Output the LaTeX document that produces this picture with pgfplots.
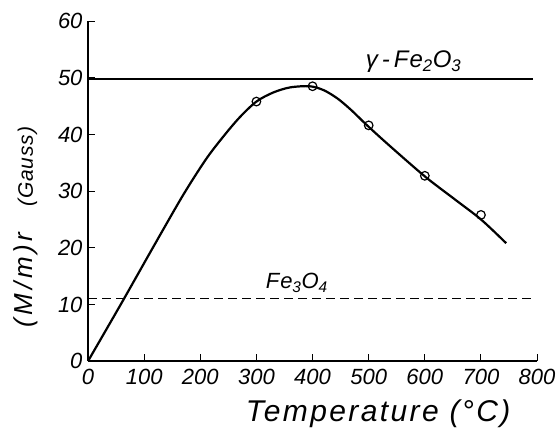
\documentclass[border=0pt]{standalone}
\usepackage{fontspec}
\setmainfont{Liberation Sans}
\newfontfamily\spaced[LetterSpace=8]{Liberation Sans}
\newfontfamily\spacedy[LetterSpace=14]{Liberation Sans}
\newfontfamily\spacedg[LetterSpace=4]{Liberation Sans}
\usepackage{pgfplots}
\pgfplotsset{compat=1.18}
\begin{document}
\begin{tikzpicture}
\begin{axis}[
  scale only axis, width=449pt, height=340pt,
  xmin=0, xmax=800, ymin=0, ymax=60,
  axis x line*=bottom, axis y line*=left,
  axis line style={-, line width=1.4pt},
  tick align=inside, major tick length=7pt,
  tick style={line width=1pt, black},
  xtick={0,100,...,800}, ytick={0,10,...,60},
  xticklabel={\itshape\pgfmathprintnumber[assume math mode=true]{\tick}},
  yticklabel={\itshape\pgfmathprintnumber[assume math mode=true]{\tick}},
  tick label style={font=\fontsize{22}{24}\selectfont},
  xticklabel style={yshift=-4pt},
  yticklabel style={xshift=-2pt},
  clip=false,
]
\path (rel axis cs:-0.196,-0.206) rectangle (rel axis cs:1.051,1.062);
% gamma-Fe2O3 level
\addplot[black, line width=1.5pt] coordinates {(0,49.8) (793,49.8)};
% Fe3O4 level
\addplot[black, line width=1.3pt, dash pattern=on 9pt off 5pt] coordinates {(0,11) (797,11)};
% curve
\addplot[black, line width=2.2pt, smooth, tension=0.5] coordinates {
(0,0) (60,10.3) (120,20.8) (170,29.4) (210,35.6) (240,39.5) (270,43) (300,45.8) (330,47.4) (360,48.3) (395,48.5) (420,47.8) (445,46.3) (470,44.2) (495,41.8) (535,38.2) (600,32.6) (650,28.8) (700,25.0) (745,20.8)};
% measured points
\addplot[only marks, mark=o, mark size=4.3pt, mark options={fill=white, line width=1.2pt}] coordinates {
(300,45.8) (400,48.5) (500,41.6) (600,32.7) (700,25.8)};
\node[font=\fontsize{24}{26}\selectfont\itshape\spacedg, anchor=south] at (axis cs:580,50.3) {γ\,-\,Fe\textsubscript{2}O\textsubscript{3}};
\node[font=\fontsize{22}{24}\selectfont\itshape\spacedg, anchor=south] at (axis cs:372,11.5) {Fe\textsubscript{3}O\textsubscript{4}};
\node[font=\fontsize{30}{32}\selectfont\spaced\itshape] at (rel axis cs:0.646,-0.156) {Temperature (°C)};
\node[rotate=90, anchor=center] at (rel axis cs:-0.138,0.394) {\fontsize{26}{28}\selectfont\spacedy\itshape (M/m)r\quad\fontsize{21}{23}\selectfont\spacedg\itshape (Gauss)};
\end{axis}
\end{tikzpicture}
\end{document}
